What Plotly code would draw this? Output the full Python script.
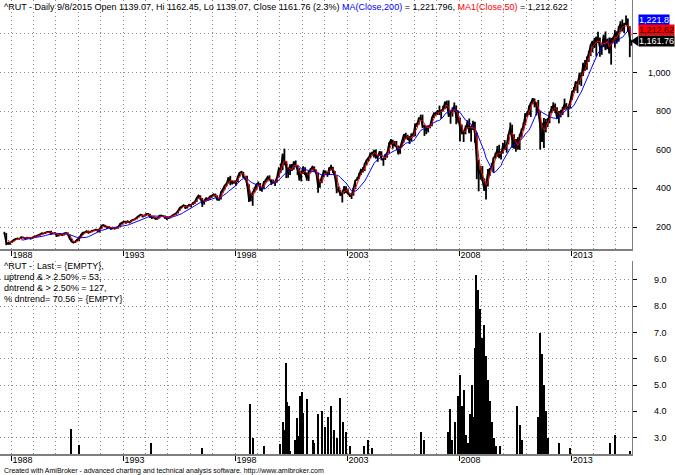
import pandas as pd
import plotly.graph_objects as go

# ---------------- data (monthly) ----------------
FIRST_MONTH = "1987-09"
LAST_DATE = "2015-09-08"

CLOSE = [
    166, 118, 112, 121,
    125, 134, 139, 141, 139, 148, 146, 141, 145, 144, 139, 147,
    152, 153, 156, 162, 168, 166, 172, 176, 176, 166, 167, 168,
    153, 158, 163, 157, 168, 170, 160, 138, 124, 118, 126, 132,
    144, 160, 171, 171, 179, 169, 175, 182, 182, 187, 178, 190,
    205, 211, 204, 197, 200, 190, 197, 191, 196, 202, 217, 221,
    229, 223, 230, 224, 234, 238, 241, 251, 258, 265, 256, 259,
    268, 267, 252, 253, 250, 241, 245, 259, 258, 257, 247, 250,
    246, 256, 260, 266, 271, 285, 301, 307, 313, 298, 310, 316,
    315, 325, 332, 350, 364, 349, 318, 336, 350, 344, 358, 362,
    369, 360, 342, 343, 381, 396, 415, 425, 456, 436, 429, 437,
    431, 463, 482, 485, 459, 457, 419, 338, 363, 379, 399, 422,
    427, 393, 398, 434, 440, 460, 447, 431, 431, 433, 459, 505,
    497, 578, 540, 507, 478, 517, 500, 538, 521, 497, 445, 484,
    510, 476, 450, 486, 498, 512, 496, 480, 404, 428, 462, 488,
    484, 470, 506, 511, 488, 463, 393, 392, 363, 375, 409, 383,
    372, 361, 364, 398, 441, 449, 477, 497, 488, 528, 547, 557,
    579, 584, 590, 559, 568, 591, 552, 548, 573, 583, 634, 651,
    624, 634, 616, 580, 616, 639, 680, 667, 667, 646, 679, 673,
    733, 731, 765, 765, 721, 724, 700, 722, 725, 767, 787, 788,
    800, 792, 800, 814, 847, 834, 777, 792, 805, 828, 767, 766,
    713, 686, 687, 714, 741, 689, 714, 739, 679, 537, 473, 499,
    443, 389, 423, 487, 501, 508, 557, 572, 604, 562, 579, 625,
    602, 628, 679, 717, 662, 610, 651, 602, 676, 703, 727, 784,
    781, 823, 843, 865, 848, 827, 797, 726, 644, 741, 737, 741,
    792, 810, 830, 816, 762, 798, 786, 812, 837, 818, 821, 849,
    902, 911, 951, 947, 984, 977, 1045, 1011, 1073, 1100, 1143, 1163,
    1131, 1183, 1173, 1127, 1135, 1193, 1120, 1174, 1102, 1173, 1173, 1205,
    1166, 1233, 1253, 1220, 1247, 1254, 1239, 1178, 1162,
]

HIGH = [
    175, 169, 122, 123,
    128, 135, 141, 143, 142, 149, 150, 147, 146, 148, 145, 148,
    153, 156, 157, 163, 169, 170, 173, 179, 179, 180, 169, 171,
    168, 159, 165, 164, 169, 172, 172, 161, 140, 125, 127, 135,
    145, 162, 172, 176, 180, 182, 177, 183, 186, 190, 189, 191,
    212, 213, 211, 204, 203, 200, 198, 198, 198, 203, 218, 222,
    231, 232, 233, 231, 235, 240, 243, 251, 260, 267, 265, 262,
    269, 272, 269, 256, 255, 253, 247, 260, 264, 261, 259, 252,
    251, 257, 262, 267, 272, 286, 302, 308, 315, 314, 312, 318,
    316, 329, 334, 352, 366, 364, 350, 338, 351, 352, 359, 365,
    372, 373, 364, 345, 382, 398, 416, 428, 458, 465, 440, 440,
    439, 464, 483, 491, 486, 462, 465, 421, 375, 380, 405, 423,
    436, 428, 403, 437, 450, 461, 468, 448, 446, 436, 460, 505,
    528, 580, 606, 542, 510, 525, 527, 540, 545, 522, 505, 490,
    515, 510, 482, 490, 504, 515, 514, 498, 482, 432, 463, 496,
    493, 486, 508, 522, 512, 490, 463, 410, 392, 380, 412, 411,
    395, 374, 373, 400, 442, 458, 480, 498, 510, 530, 548, 562,
    585, 590, 600, 602, 570, 593, 592, 556, 578, 587, 637, 656,
    652, 645, 646, 622, 618, 645, 682, 688, 678, 671, 685, 690,
    736, 740, 766, 782, 782, 728, 725, 725, 730, 770, 794, 797,
    806, 829, 807, 828, 850, 855, 856, 801, 820, 845, 830, 801,
    767, 730, 700, 725, 752, 762, 724, 750, 745, 690, 549, 515,
    516, 452, 428, 500, 506, 532, 560, 585, 620, 626, 592, 636,
    650, 630, 680, 741, 730, 680, 656, 665, 680, 710, 741, 790,
    800, 830, 845, 868, 866, 848, 858, 800, 740, 765, 760, 764,
    796, 827, 846, 840, 820, 800, 807, 822, 865, 842, 825, 853,
    904, 925, 953, 952, 1000, 999, 1051, 1065, 1083, 1112, 1145, 1164,
    1180, 1186, 1212, 1182, 1140, 1197, 1213, 1176, 1182, 1180, 1185, 1221,
    1214, 1239, 1266, 1275, 1258, 1296, 1280, 1240, 1163,
]

LOW = [
    163, 106, 110, 108,
    117, 125, 133, 136, 136, 138, 145, 139, 140, 143, 137, 138,
    146, 150, 151, 155, 161, 164, 164, 171, 174, 160, 163, 163,
    150, 151, 157, 154, 156, 166, 158, 135, 122, 117, 117, 126,
    126, 143, 159, 168, 169, 168, 169, 173, 180, 180, 175, 171,
    189, 204, 200, 191, 196, 187, 188, 189, 190, 192, 201, 213,
    220, 217, 222, 219, 224, 231, 235, 240, 250, 257, 249, 254,
    258, 262, 248, 241, 245, 240, 238, 244, 256, 252, 243, 236,
    242, 245, 255, 260, 264, 270, 285, 297, 305, 293, 296, 306,
    302, 314, 320, 330, 348, 340, 304, 316, 333, 337, 342, 350,
    358, 355, 338, 336, 342, 378, 393, 410, 425, 416, 420, 424,
    414, 431, 461, 476, 455, 443, 415, 330, 333, 310, 379, 390,
    420, 388, 383, 397, 430, 436, 445, 418, 426, 413, 431, 457,
    480, 494, 520, 453, 455, 470, 490, 497, 516, 470, 440, 436,
    475, 470, 440, 438, 482, 493, 486, 475, 378, 403, 427, 458,
    470, 460, 469, 495, 480, 455, 375, 383, 360, 327, 372, 376,
    370, 356, 345, 362, 397, 440, 449, 470, 484, 490, 520, 540,
    555, 570, 560, 556, 538, 567, 545, 517, 547, 559, 583, 626,
    606, 617, 612, 575, 579, 614, 638, 655, 650, 630, 645, 669,
    670, 718, 730, 756, 712, 672, 681, 690, 712, 722, 765, 777,
    780, 780, 760, 798, 810, 818, 770, 735, 772, 797, 732, 740,
    643, 680, 640, 680, 709, 685, 642, 702, 637, 448, 385, 445,
    438, 387, 343, 410, 464, 498, 480, 554, 564, 556, 550, 580,
    600, 585, 628, 676, 610, 605, 590, 602, 600, 665, 700, 727,
    770, 780, 770, 836, 820, 778, 790, 601, 640, 609, 690, 717,
    737, 790, 800, 790, 761, 737, 768, 780, 806, 809, 769, 815,
    858, 895, 907, 894, 937, 930, 983, 1010, 1015, 1055, 1085, 1105,
    1128, 1083, 1153, 1082, 1092, 1132, 1116, 1121, 1098, 1041, 1155, 1129,
    1150, 1160, 1208, 1213, 1205, 1250, 1210, 1080, 1139,
]

# lower pane histogram (bars)
HIST_DATES = [
    "1990-09-03", "1991-01-11", "1994-03-27", "1996-07-03",
    "1998-09-02", "1998-10-15", "1999-04-12",
    "2000-01-03", "2000-02-15", "2000-03-10", "2000-03-25", "2000-04-10",
    "2000-05-01", "2000-05-23", "2000-06-20", "2000-08-30", "2000-09-30",
    "2000-10-28", "2000-11-24", "2000-12-20", "2001-01-12", "2001-03-17",
    "2001-06-25", "2001-07-14", "2001-09-18", "2001-11-19",
    "2002-01-07", "2002-02-25", "2002-04-15", "2002-06-03", "2002-07-22",
    "2002-09-09", "2002-10-27", "2002-12-15", "2003-02-19",
    "2003-10-04", "2003-12-08", "2004-02-12", "2006-04-20", "2006-06-09",
    "2007-07-05", "2007-08-07", "2007-09-09", "2007-10-27", "2007-12-15",
    "2008-01-17", "2008-02-18", "2008-03-22", "2008-04-24", "2008-05-27",
    "2008-06-28", "2008-07-31", "2008-09-02", "2008-09-20", "2008-10-04",
    "2008-10-20", "2008-11-05", "2008-11-20", "2008-12-08", "2008-12-25",
    "2009-01-10", "2009-01-28", "2009-02-12", "2009-03-01", "2009-03-16",
    "2009-04-01", "2009-04-18", "2009-05-21", "2009-06-22", "2009-07-25",
    "2009-08-26", "2009-10-30",
    "2010-08-03", "2010-09-21", "2010-10-24",
    "2011-07-11", "2011-08-13", "2011-09-01", "2011-09-15", "2011-10-17",
    "2011-11-19", "2011-12-21", "2012-06-19", "2012-12-15",
    "2014-09-27", "2014-12-18", "2015-08-20",
]
HIST_VALUES = [
    3.33, 2.72, 2.8, 2.62,
    4.28, 3.0, 2.7,
    2.76, 3.6, 3.0, 3.3, 5.83,
    4.37, 4.2, 2.5, 2.9, 3.74,
    3.07, 4.59, 4.73, 3.93, 4.46,
    2.9, 2.8, 3.9, 4.0,
    3.4, 3.8, 4.2, 3.3, 3.0,
    4.5, 3.6, 3.2, 2.7,
    2.7, 2.9, 2.6, 3.2, 2.9,
    3.2, 4.1, 2.9, 3.6, 4.6,
    5.4, 4.2, 4.8, 3.1, 2.8,
    3.9, 5.0, 3.8, 6.4, 9.2,
    4.5, 8.6, 5.0, 7.9, 4.2,
    6.8, 3.9, 7.3, 4.6, 6.1,
    3.5, 5.2, 4.4, 3.6, 3.0,
    2.7, 2.7,
    4.2, 3.5, 2.9,
    3.8, 7.0, 4.4, 6.2, 5.0,
    4.0, 3.0, 2.8, 2.6,
    2.8, 3.1, 2.5,
]

PRICE_TICKS = [200, 400, 600, 800, 1000, 1200]
PRICE_TICK_TEXT = ["200", "400", "600", "800", "1,000", ""]
HIST_TICKS = [3, 4, 5, 6, 7, 8, 9]
HIST_TICK_TEXT = ["3.0", "4.0", "5.0", "6.0", "7.0", "8.0", "9.0"]
YEAR_TICKS = ["1988-01-01", "1993-01-01", "1998-01-01", "2003-01-01", "2008-01-01", "2013-01-01"]
YEAR_TEXT = ["1988", "1993", "1998", "2003", "2008", "2013"]

TITLE = ("^RUT - Daily 9/8/2015 Open 1139.07, Hi 1162.45, Lo 1139.07, Close 1161.76 (2.3%) "
         "<span style='color:#0000ff'>MA(Close,200)</span> = 1,221.796, "
         "<span style='color:#ff0000'>MA1(Close,50)</span> = 1,212.622")
LOWER_TEXT = ["^RUT -  Last = {EMPTY},", "uptrend & > 2.50% = 53,",
              "dntrend & > 2.50% = 127,", "% dntrend= 70.56 = {EMPTY}"]
FOOTER = ("Created with AmiBroker - advanced charting and technical analysis software. "
          "http://www.amibroker.com")

# ---------------- build ----------------
dates = list(pd.date_range(FIRST_MONTH + "-01", periods=len(CLOSE), freq="MS") + pd.Timedelta(days=14))
dates[-1] = pd.Timestamp(LAST_DATE)
close_s = pd.Series(CLOSE, dtype=float)
ma200 = close_s.rolling(10).mean()
ma50 = close_s.rolling(3).mean()
up = [h - c for h, c in zip(HIGH, CLOSE)]
dn = [c - l for c, l in zip(CLOSE, LOW)]

W, H = 675, 475
ML, MR, MT, MB = 0, 43, 0, 21
PW, PH = W - ML - MR, H - MT - MB


def py(p):  # pixel row -> paper y
    return (PH + MT - p) / PH


def px(p):  # pixel col -> paper x
    return (p - ML) / PW


FONT = "Liberation Sans, Arial, sans-serif"
GRID = dict(showgrid=True, gridcolor="#8c8c8c", griddash="1px,3px", gridwidth=1)

fig = go.Figure()
fig.add_trace(go.Scatter(
    x=dates, y=CLOSE, mode="lines", line=dict(color="black", width=1.6),
    error_y=dict(type="data", symmetric=False, array=up, arrayminus=dn,
                 width=0, thickness=1.8, color="black"),
    xaxis="x", yaxis="y", hoverinfo="skip"))
fig.add_trace(go.Scatter(x=dates, y=ma200, mode="lines", line=dict(color="#0000ff", width=1),
                         xaxis="x", yaxis="y"))
fig.add_trace(go.Scatter(x=dates, y=ma50, mode="lines", line=dict(color="#ff0000", width=1),
                         xaxis="x", yaxis="y"))
fig.add_trace(go.Bar(x=HIST_DATES, y=HIST_VALUES, marker=dict(color="black", line=dict(width=0)),
                     width=18 * 86400000, xaxis="x2", yaxis="y2"))

xrange = ["1987-07-05", "2015-09-20"]
xcommon = dict(type="date", range=xrange, tickvals=YEAR_TICKS, ticktext=YEAR_TEXT,
               ticks="outside", ticklen=5, tickcolor="black", tickwidth=1,
               ticklabelposition="outside right", ticklabelstandoff=-4,
               tickfont=dict(family=FONT, size=9, color="black"),
               showline=True, linecolor="#7f7f7f", linewidth=2,
               minor=dict(dtick="M12", tick0="1988-01-01", showgrid=True,
                          gridcolor="#8c8c8c", griddash="1px,3px", gridwidth=1),
               zeroline=False, **GRID)

fig.update_layout(
    width=W, height=H, margin=dict(l=ML, r=MR, t=MT, b=MB),
    paper_bgcolor="white", plot_bgcolor="white", showlegend=False, bargap=0,
    xaxis=dict(domain=[0, 1], anchor="y", **xcommon),
    xaxis2=dict(domain=[0, 1], anchor="y2", **xcommon),
    yaxis=dict(domain=[py(249), 1], range=[86, 1376], side="right", tickvals=PRICE_TICKS,
               showticklabels=False, ticks="outside", ticklen=4, tickcolor="black",
               showline=True, linecolor="#7f7f7f", linewidth=1, zeroline=False, **GRID),
    yaxis2=dict(domain=[0, py(261)], range=[2.38, 9.72], side="right", tickvals=HIST_TICKS,
                showticklabels=False, ticks="outside", ticklen=4, tickcolor="black",
                showline=True, linecolor="#7f7f7f", linewidth=1, zeroline=False, **GRID),
)

ann = []
for v, t in zip(PRICE_TICKS, PRICE_TICK_TEXT):
    if t:
        ann.append(dict(x=px(673), xref="paper", y=v, yref="y", text=t, showarrow=False,
                        xanchor="right", yanchor="middle",
                        font=dict(family=FONT, size=9, color="black")))
for v, t in zip(HIST_TICKS, HIST_TICK_TEXT):
    ann.append(dict(x=px(669), xref="paper", y=v, yref="y2", text=t, showarrow=False,
                    xanchor="right", yanchor="middle",
                    font=dict(family=FONT, size=9, color="black")))
ann.append(dict(x=px(2), xref="paper", y=py(0), yref="paper", text=TITLE, showarrow=False,
                xanchor="left", yanchor="top", font=dict(family=FONT, size=9, color="black")))
for i, line in enumerate(LOWER_TEXT):
    ann.append(dict(x=px(2), xref="paper", y=py(266 + 11 * i), yref="paper", text=line,
                    showarrow=False, xanchor="left", yanchor="middle",
                    font=dict(family=FONT, size=9, color="black")))
ann.append(dict(x=px(2), xref="paper", y=py(471), yref="paper", text=FOOTER, showarrow=False,
                xanchor="left", yanchor="middle", font=dict(family=FONT, size=7, color="black")))
# last-value labels
for txt, yc, bg, fc in [("1,221.8", 20, "#0000ff", "white"),
                        ("1,212.62", 30, "#ff0000", "black"),
                        ("1,161.76", 41, "black", "white")]:
    ann.append(dict(x=px(638), xref="paper", y=py(yc), yref="paper", text=txt, showarrow=False,
                    xanchor="left", yanchor="middle", bgcolor=bg, borderpad=0,
                    font=dict(family=FONT, size=9, color=fc)))
fig.update_layout(annotations=ann)

fig.add_shape(type="path", xref="paper", yref="paper",
              path=f"M {px(631)} {py(41)} L {px(638)} {py(36)} L {px(638)} {py(46)} Z",
              fillcolor="black", line=dict(width=0))

fig.write_html("out.html", config={"displayModeBar": False},
               post_script="document.body.style.margin='0';document.body.style.overflow='hidden';")
